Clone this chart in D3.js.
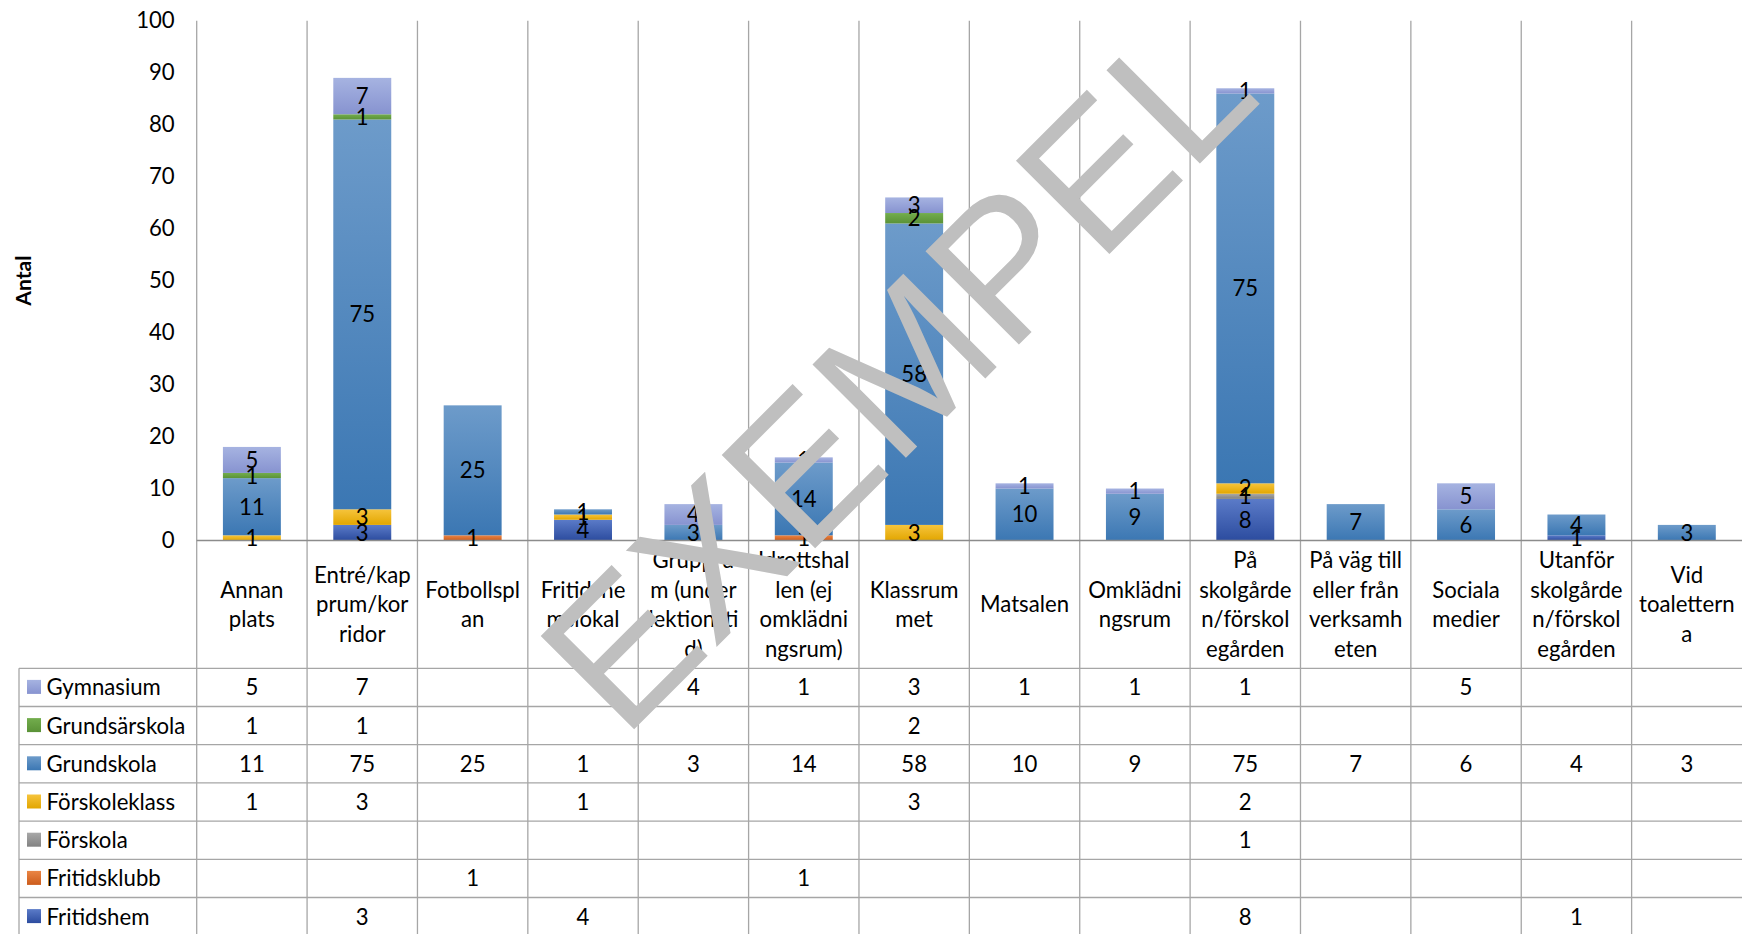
<!DOCTYPE html>
<html><head><meta charset="utf-8">
<script src="https://cdn.jsdelivr.net/npm/d3@7"></script>
<style>html,body{margin:0;padding:0;background:#fff;overflow:hidden}</style>
</head><body>
<svg id="chart" width="1742" height="934" xmlns="http://www.w3.org/2000/svg"></svg>
<script>
// ---------------- DATA ----------------
const categories = ["Annan plats","Entré/kapprum/korridor","Fotbollsplan","Fritidshemslokal","Grupprum (under lektionstid)","Idrottshallen (ej omklädningsrum)","Klassrummet","Matsalen","Omklädningsrum","På skolgården/förskolegården","På väg till eller från verksamheten","Sociala medier","Utanför skolgården/förskolegården","Vid toaletterna"];
const categoryLines = [["Annan","plats"],["Entré/kap","prum/kor","ridor"],["Fotbollspl","an"],["Fritidshe","mslokal"],["Gruppru","m (under","lektionsti","d)"],["Idrottshal","len (ej","omklädni","ngsrum)"],["Klassrum","met"],["Matsalen"],["Omklädni","ngsrum"],["På","skolgårde","n/förskol","egården"],["På väg till","eller från","verksamh","eten"],["Sociala","medier"],["Utanför","skolgårde","n/förskol","egården"],["Vid","toalettern","a"]];
// table order (top -> bottom)
const seriesNames = ["Gymnasium","Grundsärskola","Grundskola","Förskoleklass","Förskola","Fritidsklubb","Fritidshem"];
const gymnasium     = [5,7,null,null,4,1,3,1,1,1,null,5,null,null];
const grundsarskola = [1,1,null,null,null,null,2,null,null,null,null,null,null,null];
const grundskola    = [11,75,25,1,3,14,58,10,9,75,7,6,4,3];
const forskoleklass = [1,3,null,1,null,null,3,null,null,2,null,null,null,null];
const forskola      = [null,null,null,null,null,null,null,null,null,1,null,null,null,null];
const fritidsklubb  = [null,null,1,null,null,1,null,null,null,null,null,null,null,null];
const fritidshem    = [null,3,null,4,null,null,null,null,null,8,null,null,1,null];
const seriesValues = [gymnasium,grundsarskola,grundskola,forskoleklass,forskola,fritidsklubb,fritidshem];
const yTicks = [0,10,20,30,40,50,60,70,80,90,100];
const yTitle = "Antal";
const watermarkText = "EXEMPEL";

// ---------------- STYLE ----------------
const seriesColors = {
  "Gymnasium":     ["#a6b3e1","#8793d0"],
  "Grundsärskola": ["#73ad4d","#5a9237"],
  "Grundskola":    ["#6d9bca","#3b77b3"],
  "Förskoleklass": ["#f6c43c","#e2a600"],
  "Förskola":      ["#a8a8a8","#828282"],
  "Fritidsklubb":  ["#ea8544","#cc5c1c"],
  "Fritidshem":    ["#5b7bc8","#2c4c9f"]
};
const FONT = "Lato, 'Open Sans', sans-serif";
const gridColor = "#a6a6a6";

const W = 1742, H = 934;
const plotLeft = 196.7, plotRight = 1742, plotTop = 20.7, plotBottom = 540.5;
const tableLeft = 19, tableTop = 668.3, rowH = 38.2;

const svg = d3.select("#chart");

// font size fitting (match reference text widths)
const probe = svg.append("text").attr("font-family", FONT).attr("font-size", 100).text("Fotbollspl");
const pw = probe.node().getComputedTextLength();
probe.remove();
const fs = Math.min(24, Math.max(18, 96.5 / pw * 100 * 0.98));

// gradients
const defs = svg.append("defs");
seriesNames.forEach((s, i) => {
  const g = defs.append("linearGradient").attr("id", "grad" + i)
    .attr("x1", 0).attr("y1", 0).attr("x2", 0).attr("y2", 1);
  g.append("stop").attr("offset", "0%").attr("stop-color", seriesColors[s][0]);
  g.append("stop").attr("offset", "100%").attr("stop-color", seriesColors[s][1]);
});

// scales
const x = d3.scaleBand().domain(categories).range([plotLeft, plotRight]).padding(0);
const y = d3.scaleLinear().domain([0, 100]).range([plotBottom, plotTop]);
const barW = x.bandwidth() * 0.525;

// stacked data
const rows = categories.map((c, ci) => {
  const o = { cat: c };
  seriesNames.forEach((s, si) => { o[s] = seriesValues[si][ci] || 0; });
  return o;
});
const stackKeys = seriesNames.slice().reverse(); // bottom -> top
const stacked = d3.stack().keys(stackKeys)(rows);

// vertical gridlines (plot + table)
const gl = svg.append("g");
categories.forEach(c => {
  gl.append("line").attr("x1", x(c)).attr("x2", x(c))
    .attr("y1", plotTop).attr("y2", H)
    .attr("stroke", gridColor).attr("stroke-width", 1.3);
});
// table horizontal lines
for (let r = 0; r <= seriesNames.length; r++) {
  const yy = tableTop + r * rowH;
  gl.append("line").attr("x1", tableLeft).attr("x2", W).attr("y1", yy).attr("y2", yy)
    .attr("stroke", gridColor).attr("stroke-width", 1.3);
}
gl.append("line").attr("x1", tableLeft).attr("x2", tableLeft).attr("y1", tableTop).attr("y2", H)
  .attr("stroke", gridColor).attr("stroke-width", 1.3);

// bars
const bars = svg.append("g");
stacked.forEach(layer => {
  const s = layer.key;
  const gi = seriesNames.indexOf(s);
  bars.selectAll(null).data(layer.filter(d => d[1] > d[0])).enter().append("rect")
    .attr("x", d => x(d.data.cat) + (x.bandwidth() - barW) / 2)
    .attr("width", barW)
    .attr("y", d => y(d[1]))
    .attr("height", d => y(d[0]) - y(d[1]))
    .attr("fill", `url(#grad${gi})`);
});

// zero axis line
svg.append("line").attr("x1", plotLeft).attr("x2", W).attr("y1", y(0)).attr("y2", y(0))
  .attr("stroke", "#8c8c8c").attr("stroke-width", 1.5);

// data labels
const lbl = svg.append("g").attr("font-family", FONT).attr("font-size", fs).attr("fill", "#000")
  .attr("text-anchor", "middle");
stacked.forEach(layer => {
  lbl.selectAll(null).data(layer.filter(d => d[1] > d[0])).enter().append("text")
    .attr("x", d => x(d.data.cat) + x.bandwidth() / 2)
    .attr("y", d => y((d[0] + d[1]) / 2))
    .attr("dy", "0.36em")
    .text(d => d[1] - d[0]);
});

// y axis
const yAxis = d3.axisLeft(y).tickValues(yTicks).tickSize(0).tickPadding(22).tickFormat(d3.format("d"));
const ya = svg.append("g").attr("transform", `translate(${plotLeft},0)`).call(yAxis);
ya.select(".domain").remove();
ya.selectAll("text").attr("font-family", FONT).attr("font-size", fs).attr("fill", "#000");

// y title
svg.append("text").attr("transform", `translate(31,${(plotTop + plotBottom) / 2}) rotate(-90)`)
  .attr("text-anchor", "middle").attr("font-family", FONT).attr("font-weight", "bold")
  .attr("font-size", fs * 0.95).attr("fill", "#000").text(yTitle);

// category labels
const catG = svg.append("g").attr("font-family", FONT).attr("font-size", fs).attr("fill", "#000")
  .attr("text-anchor", "middle");
const lineH = 29.6, catCenter = 604.4;
categories.forEach((c, ci) => {
  const lines = categoryLines[ci];
  const t = catG.append("text");
  lines.forEach((ln, li) => {
    t.append("tspan").attr("x", x(c) + x.bandwidth() / 2)
      .attr("y", catCenter + (li - (lines.length - 1) / 2) * lineH)
      .attr("dy", "0.36em").text(ln);
  });
});

// table: legend + values
const tbl = svg.append("g").attr("font-family", FONT).attr("font-size", fs).attr("fill", "#000");
seriesNames.forEach((s, si) => {
  const cy = tableTop + si * rowH + rowH / 2;
  tbl.append("rect").attr("x", 27).attr("y", cy - 7.5).attr("width", 14).attr("height", 14)
    .attr("fill", `url(#grad${si})`);
  tbl.append("text").attr("x", 46.5).attr("y", cy).attr("dy", "0.36em").text(s);
  categories.forEach((c, ci) => {
    const v = seriesValues[si][ci];
    if (v != null) {
      tbl.append("text").attr("x", x(c) + x.bandwidth() / 2).attr("y", cy).attr("dy", "0.36em")
        .attr("text-anchor", "middle").text(v);
    }
  });
});

// watermark
svg.append("text").attr("transform", "translate(623,740.6) rotate(-45)")
  .attr("font-family", "'Liberation Sans', Arial, sans-serif").attr("font-size", 192)
  .attr("fill", "#bfbfbf").text(watermarkText);
</script>
</body></html>
